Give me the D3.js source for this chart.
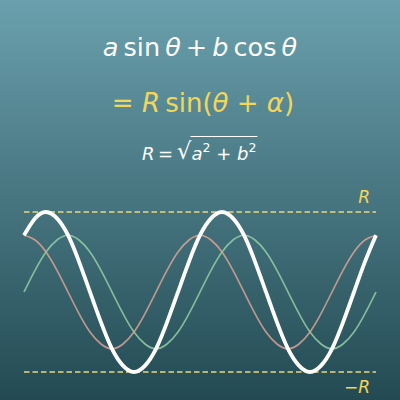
<!DOCTYPE html>
<html>
<head>
<meta charset="utf-8">
<script src="https://cdn.jsdelivr.net/npm/d3@7"></script>
<style>
  html, body { margin: 0; padding: 0; background: #234a53; }
  svg { display: block; }
  text { font-family: "DejaVu Sans", sans-serif; }
</style>
</head>
<body>
<svg id="chart" width="400" height="400"></svg>
<script>
// theta in multiples of pi, sampled every pi/8 over two periods
const theta = [0, 0.125, 0.25, 0.375, 0.5, 0.625, 0.75, 0.875, 1,
  1.125, 1.25, 1.375, 1.5, 1.625, 1.75, 1.875, 2,
  2.125, 2.25, 2.375, 2.5, 2.625, 2.75, 2.875, 3,
  3.125, 3.25, 3.375, 3.5, 3.625, 3.75, 3.875, 4];

// values in units of R
const aSin = [0, 0.27, 0.5, 0.65, 0.71, 0.65, 0.5, 0.27, 0,
  -0.27, -0.5, -0.65, -0.71, -0.65, -0.5, -0.27, 0,
  0.27, 0.5, 0.65, 0.71, 0.65, 0.5, 0.27, 0,
  -0.27, -0.5, -0.65, -0.71, -0.65, -0.5, -0.27, 0];
const bCos = [0.71, 0.65, 0.5, 0.27, 0, -0.27, -0.5, -0.65, -0.71,
  -0.65, -0.5, -0.27, 0, 0.27, 0.5, 0.65, 0.71,
  0.65, 0.5, 0.27, 0, -0.27, -0.5, -0.65, -0.71,
  -0.65, -0.5, -0.27, 0, 0.27, 0.5, 0.65, 0.71];
const rSin = [0.71, 0.92, 1, 0.92, 0.71, 0.38, 0, -0.38, -0.71,
  -0.92, -1, -0.92, -0.71, -0.38, 0, 0.38, 0.71,
  0.92, 1, 0.92, 0.71, 0.38, 0, -0.38, -0.71,
  -0.92, -1, -0.92, -0.71, -0.38, 0, 0.38, 0.71];

const bounds = [1, -1];
const boundLabels = ["R", "\u2212R"];

const width = 400;
const height = 400;
const svg = d3.select("#chart");

// Background gradient
const grad = svg.append("defs")
  .append("linearGradient")
  .attr("id", "bg")
  .attr("x1", 0).attr("y1", 0)
  .attr("x2", 0).attr("y2", 1);
grad.append("stop").attr("offset", "0%").attr("stop-color", "#6aa0ad");
grad.append("stop").attr("offset", "100%").attr("stop-color", "#234a53");

svg.append("rect")
  .attr("width", width)
  .attr("height", height)
  .attr("fill", "url(#bg)");

const x = d3.scaleLinear().domain([0, 4]).range([24, 376]);
const y = d3.scaleLinear().domain([-1, 1]).range([372, 212]);

// Dashed R / -R lines
svg.selectAll("line.bound")
  .data(bounds)
  .join("line")
  .attr("class", "bound")
  .attr("x1", x(0))
  .attr("x2", x(4))
  .attr("y1", (d) => y(d))
  .attr("y2", (d) => y(d))
  .attr("stroke", "#ead878")
  .attr("stroke-width", 1.7)
  .attr("stroke-dasharray", "5.5,3");

svg.selectAll("text.bound")
  .data(bounds)
  .join("text")
  .attr("class", "bound")
  .attr("x", 370)
  .attr("y", (d, i) => (i === 0 ? y(d) - 9 : y(d) + 21))
  .attr("text-anchor", "end")
  .attr("font-size", 17)
  .attr("font-style", "italic")
  .attr("fill", "#f2d65a")
  .text((d, i) => boundLabels[i]);

const line = (vals) =>
  d3.line()
    .x((d, i) => x(theta[i]))
    .y((d) => y(d))
    .curve(d3.curveNatural)(vals);

// Component curves
svg.append("path")
  .attr("d", line(aSin))
  .attr("fill", "none")
  .attr("stroke", "#94cfa4")
  .attr("stroke-opacity", 0.85)
  .attr("stroke-width", 1.6);

svg.append("path")
  .attr("d", line(bCos))
  .attr("fill", "none")
  .attr("stroke", "#dca493")
  .attr("stroke-opacity", 0.85)
  .attr("stroke-width", 1.6);

// Resulting curve
svg.append("path")
  .attr("d", line(rSin))
  .attr("fill", "none")
  .attr("stroke", "white")
  .attr("stroke-width", 3.8);

// Formulas (thin spaces as in typeset math)
const thin = "\u2009";

const t1 = svg.append("text")
  .attr("x", 200)
  .attr("y", 56)
  .attr("text-anchor", "middle")
  .attr("font-size", 25.5)
  .attr("fill", "white");
t1.append("tspan").attr("font-style", "italic").text("a");
t1.append("tspan").text(thin + "sin" + thin);
t1.append("tspan").attr("font-style", "italic").text("θ");
t1.append("tspan").text(thin + "+" + thin);
t1.append("tspan").attr("font-style", "italic").text("b");
t1.append("tspan").text(thin + "cos" + thin);
t1.append("tspan").attr("font-style", "italic").text("θ");

const t2 = svg.append("text")
  .attr("x", 203)
  .attr("y", 112)
  .attr("text-anchor", "middle")
  .attr("font-size", 26)
  .attr("fill", "#f2d65a");
t2.append("tspan").text("=  ");
t2.append("tspan").attr("font-style", "italic").text("R");
t2.append("tspan").text(thin + "sin(");
t2.append("tspan").attr("font-style", "italic").text("θ");
t2.append("tspan").text(" + ");
t2.append("tspan").attr("font-style", "italic").text("α");
t2.append("tspan").text(")");

const t3 = svg.append("text")
  .attr("x", 142)
  .attr("y", 160)
  .attr("font-size", 18)
  .attr("fill", "white");
t3.append("tspan").attr("font-style", "italic").text("R");
t3.append("tspan").text(thin + "=" + thin);
t3.append("tspan").attr("font-size", 23).attr("dy", -1).text("√");
const rad = t3.append("tspan").attr("dy", 1).attr("font-style", "italic").text("a");
t3.append("tspan").attr("font-size", 12.5).attr("dy", -8).text("2");
t3.append("tspan").attr("dy", 8).text(" + ");
t3.append("tspan").attr("font-style", "italic").text("b");
t3.append("tspan").attr("font-size", 12.5).attr("dy", -8).text("2");

const bb = t3.node().getBBox();
const radStart = rad.node().getStartPositionOfChar(0).x;
svg.append("line")
  .attr("x1", radStart - 1)
  .attr("x2", bb.x + bb.width + 1)
  .attr("y1", 136.5)
  .attr("y2", 136.5)
  .attr("stroke", "white")
  .attr("stroke-width", 1);
</script>
</body>
</html>
